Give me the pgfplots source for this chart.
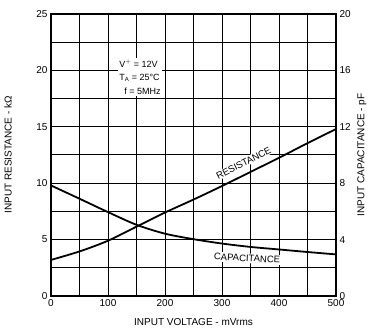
\documentclass[border=0pt]{standalone}
\usepackage{fontspec}
\setmainfont{Liberation Sans}
\usepackage{pgfplots}
\pgfplotsset{compat=1.18}
\begin{document}
\begin{tikzpicture}[font=\fontsize{10}{12}\selectfont]
\path[use as bounding box] (-51pt,-35pt) rectangle (320pt,296pt);
\begin{axis}[
  at={(0pt,0pt)}, anchor=south west,
  width=285pt, height=282pt, scale only axis,
  xmin=0, xmax=500, ymin=0, ymax=25,
  xtick={0,100,...,500}, minor xtick={50,150,...,450},
  ytick={0,5,...,25}, minor ytick={2.5,7.5,...,22.5},
  grid=both,
  major grid style={black, line width=1pt},
  minor grid style={black, line width=1pt},
  axis line style={line width=1.5pt},
  tick style={draw=none},
  yticklabel pos=left,
  /pgf/number format/assume math mode=true,
  ticklabel style={font=\fontsize{10}{12}\selectfont},
  xlabel={INPUT VOLTAGE - mVrms},
  ylabel={INPUT RESISTANCE - kΩ},
  xlabel style={at={(axis description cs:0.5,-0.092)}, anchor=center},
  ylabel style={at={(axis description cs:-0.151,0.5)}, anchor=center},
]
\addplot[black, line width=1.8pt, smooth] coordinates {
  (0,3.2) (50,3.95) (100,4.9) (150,6.15) (200,7.4) (250,8.55)
  (300,9.75) (350,11.0) (400,12.25) (450,13.55) (500,14.8)
};
\node[fill=white, inner sep=1pt, rotate=27, font=\fontsize{9.5}{10}\selectfont] at (axis cs:338,11.8) {RESISTANCE};
\node[fill=white, inner sep=1.5pt, rotate=-3, font=\fontsize{9.5}{10}\selectfont] at (axis cs:344,3.35) {CAPACITANCE};
\node[fill=white, inner sep=1.5pt, align=left, font=\fontsize{9}{13.5}\selectfont] at (axis cs:156,19.4)
  {V$^{+}$ = 12V\\T$_{\mathrm{A}}$ = 25°C\\\ \ f = 5MHz};
\end{axis}
\begin{axis}[
  at={(0pt,0pt)}, anchor=south west,
  width=285pt, height=282pt, scale only axis,
  xmin=0, xmax=500, ymin=0, ymax=20,
  axis x line=none, axis y line*=right,
  ytick={0,4,...,20},
  axis line style={line width=1.5pt},
  tick style={draw=none},
  /pgf/number format/assume math mode=true,
  ticklabel style={font=\fontsize{10}{12}\selectfont},
  ylabel={INPUT CAPACITANCE - pF},
  ylabel style={at={(axis description cs:1.091,0.5)}, anchor=center},
]
\addplot[black, line width=1.8pt, smooth] coordinates {
  (0,7.84) (50,6.9) (100,5.95) (150,5.05) (200,4.42) (250,4.03)
  (300,3.72) (350,3.48) (400,3.3) (450,3.12) (500,2.95)
};
\end{axis}
\end{tikzpicture}
\end{document}
